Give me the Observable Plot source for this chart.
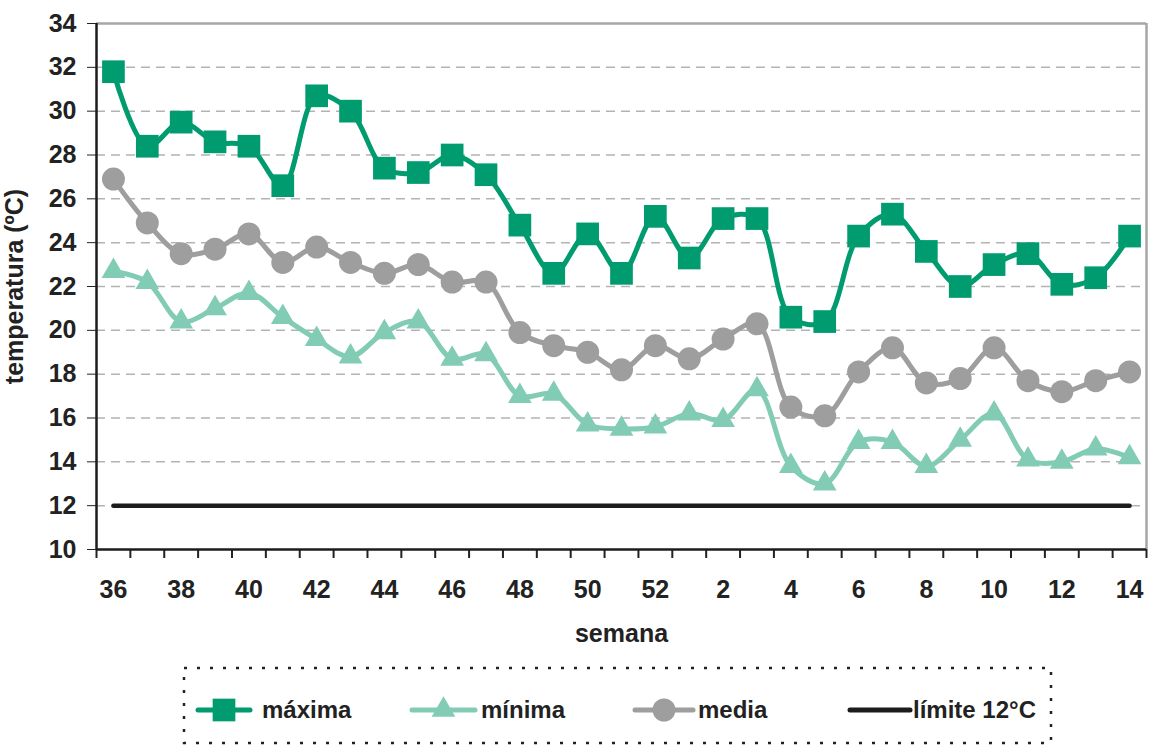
<!DOCTYPE html>
<html>
<head>
<meta charset="utf-8">
<script src="https://cdn.jsdelivr.net/npm/d3@7"></script>
<script src="https://cdn.jsdelivr.net/npm/@observablehq/plot@0.6"></script>
<style>
  body { margin: 0; background: #fff; font-family: "Liberation Sans", Arial, sans-serif; }
  #wrap { position: relative; width: 1152px; height: 746px; }
  #legend { position: absolute; left: 0; top: 655px; width: 1152px; height: 91px; }
  #legend span { position: absolute; top: 38px; font-size: 24px; font-weight: bold; color: #222; line-height: 34px; }
</style>
</head>
<body>
<div id="wrap">
  <div id="chart"></div>
  <div id="legend"></div>
</div>
<script>
const weeks = [36,37,38,39,40,41,42,43,44,45,46,47,48,49,50,51,52,1,2,3,4,5,6,7,8,9,10,11,12,13,14];
const maxima = [31.8,28.4,29.5,28.6,28.4,26.6,30.7,30.0,27.4,27.2,28.0,27.1,24.8,22.6,24.4,22.6,25.2,23.3,25.1,25.1,20.6,20.4,24.3,25.3,23.6,22.0,23.0,23.5,22.1,22.4,24.3];
const minima = [22.7,22.2,20.4,21.0,21.7,20.6,19.6,18.8,19.9,20.4,18.7,18.9,17.0,17.1,15.7,15.5,15.6,16.2,15.9,17.3,13.8,13.0,14.9,14.9,13.8,15.0,16.2,14.1,14.0,14.6,14.2];
const media = [26.9,24.9,23.5,23.7,24.4,23.1,23.8,23.1,22.6,23.0,22.2,22.2,19.9,19.3,19.0,18.2,19.3,18.7,19.6,20.3,16.5,16.1,18.1,19.2,17.6,17.8,19.2,17.7,17.2,17.7,18.1];
const limite = 12;
const seriesNames = ["máxima", "mínima", "media", "límite 12°C"];
const colors = {max: "#009b6f", min: "#82ccb6", med: "#9d9e9d", lim: "#1c1c1c"};

const rows = weeks.map((w, i) => ({i, week: w, max: maxima[i], min: minima[i], med: media[i], lim: limite}));
const labelTicks = d3.range(0, weeks.length, 2);
const boundaryTicks = d3.range(-0.5, weeks.length, 1);

const chart = Plot.plot({
  width: 1152,
  height: 655,
  marginLeft: 96,
  marginRight: 6,
  marginTop: 23,
  marginBottom: 106,
  style: {fontFamily: "'Liberation Sans', Arial, sans-serif", color: "#222", background: "#fff"},
  x: {domain: [-0.5, weeks.length - 0.5]},
  y: {domain: [10, 34]},
  marks: [
    Plot.gridY(d3.range(12, 34, 2), {stroke: "#b3b3b3", strokeOpacity: 1, strokeWidth: 1.5, strokeDasharray: "9,6"}),
    Plot.ruleY([34], {stroke: "#a6a6a6", strokeWidth: 2.5}),
    Plot.ruleX([weeks.length - 0.5], {stroke: "#a6a6a6", strokeWidth: 2.5}),
    Plot.axisY({ticks: d3.range(10, 35, 2), tickSize: 9, tickPadding: 11, fontSize: 25, fontWeight: "bold",
      label: "temperatura (ºC)", labelAnchor: "center", labelArrow: "none", labelOffset: 91}),
    Plot.axisX({ticks: boundaryTicks, tickSize: 9, tickFormat: () => "", label: null, strokeWidth: 2}),
    Plot.axisX({ticks: labelTicks, tickSize: 0, tickPadding: 31, fontSize: 25, fontWeight: "bold",
      tickFormat: i => weeks[i], label: "semana", labelAnchor: "center", labelArrow: "none", labelOffset: 92}),
    Plot.ruleX([-0.5], {stroke: "#1c1c1c", strokeWidth: 2.5}),
    Plot.ruleY([10], {stroke: "#1c1c1c", strokeWidth: 2.5}),
    Plot.lineY(rows, {x: "i", y: "lim", stroke: colors.lim, strokeWidth: 4.5, strokeLinecap: "round"}),
    Plot.lineY(rows, {x: "i", y: "min", stroke: colors.min, strokeWidth: 5, curve: "catmull-rom"}),
    Plot.dot(rows, {x: "i", y: "min", symbol: "triangle", r: 8.8, fill: colors.min}),
    Plot.lineY(rows, {x: "i", y: "med", stroke: colors.med, strokeWidth: 5, curve: "catmull-rom"}),
    Plot.dot(rows, {x: "i", y: "med", symbol: "circle", r: 11.5, fill: colors.med}),
    Plot.lineY(rows, {x: "i", y: "max", stroke: colors.max, strokeWidth: 5, curve: "catmull-rom"}),
    Plot.dot(rows, {x: "i", y: "max", symbol: "square", r: 12.8, fill: colors.max})
  ]
});
document.getElementById("chart").appendChild(chart);

// legend
const lg = document.getElementById("legend");
const svg = d3.create("svg").attr("width", 1152).attr("height", 91).style("position", "absolute").style("left", 0).style("top", 0);
svg.append("rect").attr("x", 184).attr("y", 13).attr("width", 867).attr("height", 75)
  .attr("fill", "none").attr("stroke", "#222").attr("stroke-width", 2.5).attr("stroke-dasharray", "3,10");
const items = [
  {name: seriesNames[0], color: colors.max, x1: 198, x2: 250, sym: d3.symbolSquare, size: Math.PI * 12.8 * 12.8, tx: 262},
  {name: seriesNames[1], color: colors.min, x1: 412, x2: 475, sym: d3.symbolTriangle, size: Math.PI * 8.8 * 8.8, tx: 481},
  {name: seriesNames[2], color: colors.med, x1: 635, x2: 693, sym: d3.symbolCircle, size: Math.PI * 11.5 * 11.5, tx: 698},
  {name: seriesNames[3], color: colors.lim, x1: 850, x2: 910, sym: null, tx: 913}
];
const cy = 55;
items.forEach(it => {
  svg.append("line").attr("x1", it.x1).attr("x2", it.x2).attr("y1", cy).attr("y2", cy)
    .attr("stroke", it.color).attr("stroke-width", 5).attr("stroke-linecap", "round");
  if (it.sym) {
    svg.append("path").attr("d", d3.symbol(it.sym, it.size)()).attr("transform", `translate(${(it.x1 + it.x2) / 2},${cy})`).attr("fill", it.color);
  }
});
lg.appendChild(svg.node());
items.forEach(it => {
  const s = document.createElement("span");
  s.textContent = it.name;
  s.style.left = it.tx + "px";
  lg.appendChild(s);
});
</script>
</body>
</html>
